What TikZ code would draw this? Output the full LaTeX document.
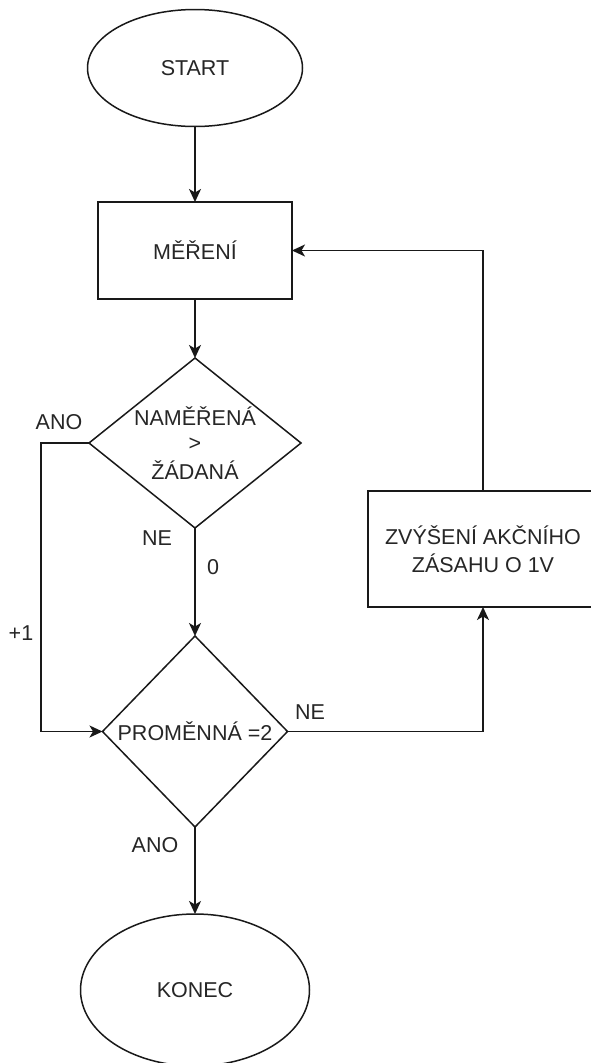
\documentclass[tikz,border=0pt]{standalone}
\usepackage{fontspec}
\setmainfont{Liberation Sans}
\usetikzlibrary{shapes.geometric,arrows.meta}
\begin{document}
\begin{tikzpicture}[x=1pt,y=-1pt,
  every node/.style={font=\fontsize{21.5}{27}\selectfont, text=black!85},
  ln/.style={line width=1.5pt, draw=black!90},
  arr/.style={ln, -{Stealth[length=13pt,width=12pt,inset=3.5pt]}},
  term/.style={ln, ellipse, inner sep=0pt, outer sep=0pt},
  proc/.style={ln, rectangle, inner sep=0pt, outer sep=0pt, align=center},
  dec/.style={ln, diamond, inner sep=0pt, outer sep=0pt},
  lbl/.style={inner sep=0pt}
]
\useasboundingbox[fill=white] (0,0) rectangle (590,1063);

% shapes
\node[term, minimum width=215pt, minimum height=117pt] (start) at (195,68) {START};
\node[proc, minimum width=194pt, minimum height=97pt] (meas) at (195,250.5) {MĚŘENÍ};
\node[dec, minimum width=212pt, minimum height=170pt,
      label={[align=center, inner sep=0pt]center:NAMĚŘENÁ\\[-2pt]>\\[2pt]ŽÁDANÁ}] (cmp) at (195,443) {};
\node[dec, minimum width=185pt, minimum height=191pt,
      label={[inner sep=0pt]center:PROMĚNNÁ =2}] (var) at (195,731.5) {};
\node[proc, minimum width=230pt, minimum height=116pt] (inc) at (483,549) {ZVÝŠENÍ AKČNÍHO\\[1pt]ZÁSAHU O 1V};
\node[term, minimum width=229pt, minimum height=152pt] (stop) at (195,990) {KONEC};

% connectors
\coordinate (lft) at (41,443);
\draw[arr] (start) -- (meas);
\draw[arr] (meas) -- (cmp);
\draw[arr] (cmp.south) -- (var.north);
\draw[arr] (cmp.west) -- (lft) |- (var.west);
\draw[arr] (var.east) -| (inc.south);
\draw[arr] (inc.north) |- (meas.east);
\draw[arr] (var.south) -- (stop.north);

% branch labels
\node[lbl] (l1) at (59,422) {ANO};
\node[lbl] (l2) at (157,538) {NE};
\node[lbl] (l3) at (213,567) {0};
\node[lbl] (l4) at (21,633) {+1};
\node[lbl] (l5) at (310,712) {NE};
\node[lbl] (l6) at (155,845) {ANO};
\end{tikzpicture}
\end{document}
